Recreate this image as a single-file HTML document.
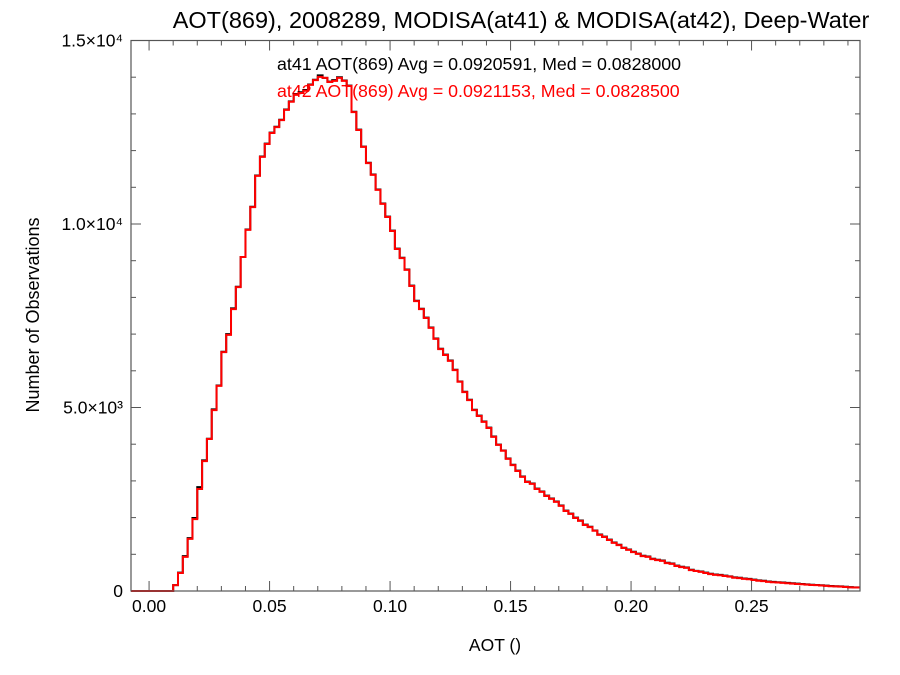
<!DOCTYPE html>
<html><head><meta charset="utf-8"><style>
body{margin:0;background:#fff}
svg{display:block;font-family:"Liberation Sans",sans-serif}
</style></head><body>
<svg id="chart" width="900" height="675" viewBox="0 0 900 675">
<text x="521" y="28" font-size="23.5" text-anchor="middle">AOT(869), 2008289, MODISA(at41) &amp; MODISA(at42), Deep-Water</text>
<text x="277" y="70" font-size="17.8" fill="#000">at41 AOT(869) Avg = 0.0920591, Med = 0.0828000</text>
<text x="277" y="97" font-size="17.8" fill="#f00">at42 AOT(869) Avg = 0.0921153, Med = 0.0828500</text>
<text transform="translate(39,315) rotate(-90)" font-size="18" text-anchor="middle">Number of Observations</text>
<text x="495" y="651" font-size="17.5" text-anchor="middle">AOT ()</text>
<g id="axes"></g>
<g id="series"></g>
<rect x="131" y="40.5" width="729" height="550.5" fill="none" stroke="#555" stroke-width="1.2"/>
</svg>
<script>
const binStart = 0.0;
const binWidth = 0.002;
const at41Counts = [0,0,0,0,0,160,500,950,1440,1990,2830,3560,4150,4950,5600,6520,7000,7700,8290,9100,9850,10470,11320,11840,12190,12490,12650,12840,13120,13340,13530,13590,13650,13800,13930,14050,13980,13880,13920,14000,13910,13770,13060,12570,12110,11670,11350,10940,10560,10200,9820,9330,9080,8760,8320,7910,7690,7450,7180,6880,6600,6440,6280,6030,5710,5430,5210,4940,4780,4620,4450,4210,3990,3830,3610,3440,3280,3120,2980,2930,2790,2710,2600,2520,2440,2330,2190,2110,2000,1920,1810,1750,1650,1540,1480,1400,1320,1260,1180,1130,1070,1020,960,940,880,850,830,770,750,690,660,640,580,550,530,500,470,450,440,420,400,370,360,340,330,310,290,280,260,250,240,230,220,210,200,190,180,170,165,155,145,135,130,125,115,105,100];
const at42Counts = [0,0,0,0,0,160,490,930,1420,1960,2780,3540,4140,4930,5590,6510,6980,7680,8280,9100,9840,10460,11310,11830,12180,12480,12640,12830,13110,13330,13520,13570,13630,13790,13920,14010,13980,13870,13900,13980,13900,13760,13050,12560,12100,11660,11340,10930,10550,10190,9810,9320,9070,8750,8310,7900,7680,7440,7170,6870,6590,6430,6270,6020,5700,5420,5200,4930,4770,4610,4440,4200,3980,3820,3600,3430,3270,3110,2970,2920,2780,2700,2590,2510,2430,2320,2180,2100,1990,1910,1800,1740,1640,1530,1470,1390,1310,1250,1170,1120,1060,1010,950,930,870,840,820,760,740,680,650,630,570,545,520,490,460,440,430,410,390,360,350,330,320,300,280,270,250,240,230,220,210,200,190,185,175,165,160,150,140,130,125,120,110,100,95];
const xTickValues = [0.00,0.05,0.10,0.15,0.20,0.25];
const xTickLabels = ["0.00","0.05","0.10","0.15","0.20","0.25"];
const yTickValues = [0,5000,10000,15000];
const yTickLabels = ["0","5.0×10³","1.0×10⁴","1.5×10⁴"];

const X0=131,X1=860,Y0=591,Y1=40.5;
const xMin=-0.0075,xMax=0.295,yMin=0,yMax=15000;
const xs=v=>X0+(v-xMin)/(xMax-xMin)*(X1-X0);
const ys=v=>Y0-(v-yMin)/(yMax-yMin)*(Y0-Y1);
const NS="http://www.w3.org/2000/svg";
const axes=document.getElementById('axes');
const series=document.getElementById('series');
function mk(tag,attrs,parent){const e=document.createElementNS(NS,tag);for(const k in attrs)e.setAttribute(k,attrs[k]);parent.appendChild(e);return e;}

for(let k=0;k<=29;k++){const v=k*0.01;const px=xs(v);const major=k%5===0;const L=major?10:5;
 const t1=mk('line',{x1:px,x2:px,y1:Y0,y2:Y0-L,stroke:'#555','stroke-width':1},axes);
 
 
 const t2=mk('line',{x1:px,x2:px,y1:Y1,y2:Y1+L,stroke:'#555','stroke-width':1},axes);
 
 }
xTickValues.forEach((v,i)=>{const t=mk('text',{x:xs(v),y:612,'font-size':17.5,'text-anchor':'middle'},axes);t.textContent=xTickLabels[i];
 
 });
for(let k=0;k<=15;k++){const v=k*1000;const py=ys(v);const L=k%5===0?10:5;
 const t1=mk('line',{x1:X0,x2:X0+L,y1:py,y2:py,stroke:'#555','stroke-width':1},axes);
 
 
 const t2=mk('line',{x1:X1,x2:X1-L,y1:py,y2:py,stroke:'#555','stroke-width':1},axes);
 
 }
yTickValues.forEach((v,i)=>{const t=mk('text',{x:123,y:ys(v)+6,'font-size':17.5,'text-anchor':'end'},axes);t.textContent=yTickLabels[i];
 
 });

function stepPath(counts){
 let d='M'+xs(xMin)+','+ys(0)+' L'+xs(binStart)+','+ys(0);
 counts.forEach((c,i)=>{const a=binStart+i*binWidth;let b=a+binWidth;if(i===counts.length-1)b=xMax;
  d+=' L'+xs(a)+','+ys(c)+' L'+xs(b)+','+ys(c);});
 return d;}
const p1=mk('path',{d:stepPath(at41Counts),fill:'none',stroke:'#000','stroke-width':2},series);


const p2=mk('path',{d:stepPath(at42Counts),fill:'none',stroke:'#f00','stroke-width':2},series);


</script>
</body></html>
